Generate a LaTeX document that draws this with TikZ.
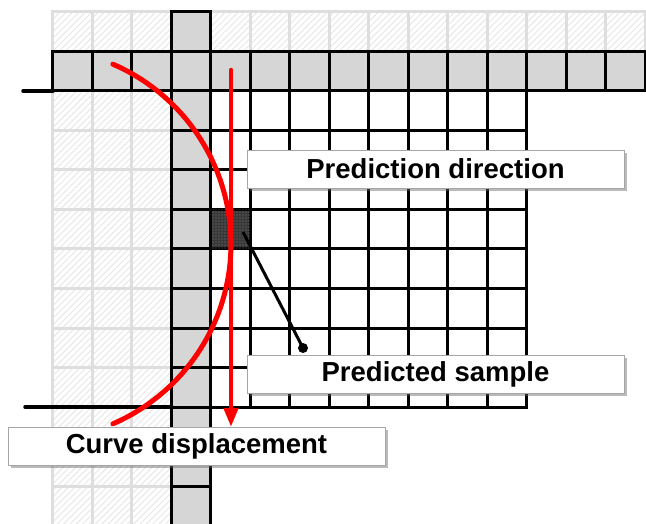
\documentclass[tikz,border=0pt]{standalone}
\usepackage{fontspec}
\setmainfont{Liberation Sans}
\usetikzlibrary{arrows.meta,patterns.meta,shadows}
\begin{document}
\begin{tikzpicture}[x=1pt,y=-1pt,
  hatchcell/.style={pattern={Lines[angle=45,distance=4.5pt,line width=1pt]},pattern color=black!9,draw=black!13,line width=3pt},
  greycell/.style={fill=black!16,draw=black,line width=3pt},
  whitecell/.style={fill=white,draw=black,line width=3pt},
  darkcell/.style={draw=black,line width=3pt,minimum size=39.5pt,inner sep=0pt,fill=black!78,
    postaction={pattern={Dots[distance=3pt,radius=0.7pt]},pattern color=black!50}},
  edgeline/.style={draw=black,line width=3.5pt,line cap=round},
  redline/.style={draw=red,line width=5pt,line cap=round},
  labelbox/.style={draw=black!35,line width=0.8pt,fill=white,minimum width=377pt,minimum height=38pt,inner sep=0pt,
    font=\fontsize{27.5}{30}\selectfont\bfseries,
    drop shadow={shadow xshift=3pt,shadow yshift=-3pt,opacity=0.45,fill=black!60}},
  pointer/.style={draw=black,line width=3pt},
  dotnode/.style={circle,fill=black,inner sep=0pt,minimum size=10pt}
]
\useasboundingbox (0,0) rectangle (646,524);
\fill[white] (0,0) rectangle (646,524);
% hatched reference cells (unavailable)
\foreach \c in {0,1,2}{
  \foreach \r in {0,2,3,4,5,6,7,8,9,10,11,12}{
    \path[hatchcell] ({52.5+39.5*\c},{12+39.5*\r}) rectangle ++(39.5,39.5);
  }
}
\foreach \c in {4,...,14}{
  \path[hatchcell] ({52.5+39.5*\c},12) rectangle ++(39.5,39.5);
}
% grey reference row and column
\foreach \c in {0,...,14}{
  \path[greycell] ({52.5+39.5*\c},51.5) rectangle ++(39.5,39.5);
}
\foreach \r in {0,2,3,4,5,6,7,8,9,10,11,12}{
  \path[greycell] (171,{12+39.5*\r}) rectangle ++(39.5,39.5);
}
% current block
\foreach \c in {4,...,11}{
  \foreach \r in {2,...,9}{
    \path[whitecell] ({52.5+39.5*\c},{12+39.5*\r}) rectangle ++(39.5,39.5);
  }
}
% predicted sample cell
\node[darkcell] (dark) at (230.25,229.25) {};
% block extent marks
\coordinate (t0) at (23,91);
\coordinate (t1) at (53,91);
\coordinate (b0) at (25,407);
\coordinate (b1) at (172,407);
\draw[edgeline] (t0) -- (t1);
\draw[edgeline] (b0) -- (b1);
% red curve and arrow
\draw[redline] plot[domain=-66.6:66.6,samples=60] ({35+196*cos(\x)},{244+196*sin(\x)});
\coordinate (a0) at (231,70);
\coordinate (a1) at (231,427);
\draw[draw=red,line width=4.5pt,line cap=round,-{Triangle[length=19pt,width=14pt]}] (a0) -- (a1);
% pointer
\coordinate (p0) at (243,232);
\node[dotnode] (dot) at (303,348) {};
\draw[pointer] (p0) -- (dot.center);
% labels
\node[labelbox] (pd) at (435.5,169) {Prediction direction};
\node[labelbox] (ps) at (435.5,374) {Predicted sample};
\node[labelbox] (cd) at (196.5,446) {Curve displacement};
\end{tikzpicture}
\end{document}
